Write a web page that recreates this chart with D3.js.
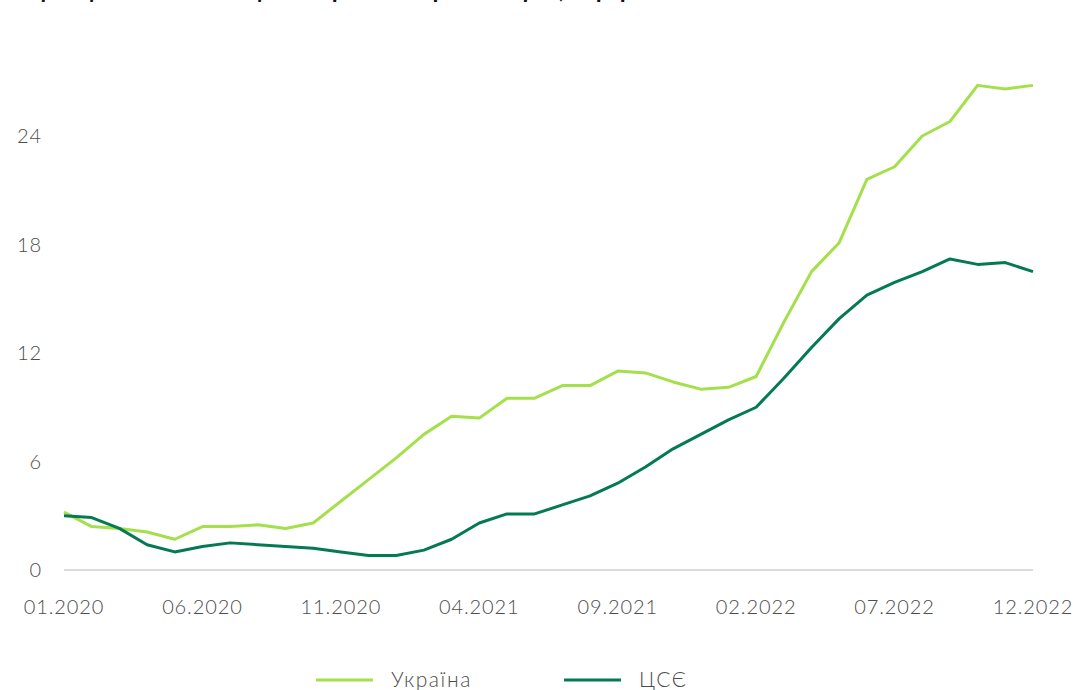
<!DOCTYPE html>
<html lang="uk">
<head>
  <meta charset="UTF-8">
  <title>Інфляція: Україна та ЦСЄ</title>
  <script src="https://d3js.org/d3.v7.min.js"></script>
  <style>
    html, body {
      margin: 0;
      padding: 0;
      overflow: hidden;
      background: #fff;
      font-family: Lato, "Open Sans", sans-serif;
    }
    svg {
      display: block;
    }
    .tick-label {
      font-size: 20px;
      font-weight: 300;
      fill: #4d4d4d;
      letter-spacing: 0.9px;
    }
    .legend-label {
      font-size: 21px;
      font-weight: 300;
      fill: #4d4d4d;
      letter-spacing: 1.6px;
    }
  </style>
</head>
<body>
  <svg width="1073" height="690"></svg>

  <script>
    // місяці 01.2020 – 12.2022
    const months = [];
    for (let y = 2020; y <= 2022; y++) {
      for (let m = 1; m <= 12; m++) months.push(String(m).padStart(2, "0") + "." + y);
    }

    const ukraine = [
      3.2, 2.4, 2.3, 2.1, 1.7, 2.4, 2.4, 2.5, 2.3, 2.6, 3.8, 5.0,
      6.2, 7.5, 8.5, 8.4, 9.5, 9.5, 10.2, 10.2, 11.0, 10.9, 10.4, 10.0,
      10.1, 10.7, 13.7, 16.5, 18.1, 21.6, 22.3, 24.0, 24.8, 26.8, 26.6, 26.8
    ];
    const cee = [
      3.0, 2.9, 2.3, 1.4, 1.0, 1.3, 1.5, 1.4, 1.3, 1.2, 1.0, 0.8,
      0.8, 1.1, 1.7, 2.6, 3.1, 3.1, 3.6, 4.1, 4.8, 5.7, 6.7, 7.5,
      8.3, 9.0, 10.6, 12.3, 13.9, 15.2, 15.9, 16.5, 17.2, 16.9, 17.0, 16.5
    ];

    const yTicks = [0, 6, 12, 18, 24];
    const xTickLabels = ["01.2020", "06.2020", "11.2020", "04.2021", "09.2021", "02.2022", "07.2022", "12.2022"];

    const seriesNames = ["Україна", "ЦСЄ"];
    const seriesColors = ["#a4e04b", "#047a50"];

    const svg = d3.select("svg");

    const x = d3.scalePoint().domain(months).range([64, 1033]);
    const y = d3.scaleLinear().domain([0, 24]).range([570, 136]);

    // заголовок (обрізаний зверху, як на оригіналі)
    svg.append("text")
      .attr("x", 14)
      .attr("y", -2)
      .style("font-size", "24px")
      .style("font-weight", "700")
      .style("fill", "#111")
      .text("Інфляція споживчих цін в Україні та країнах ЦСЄ, % р/р");

    // вісь Y (тільки підписи)
    svg.append("g")
      .selectAll("text")
      .data(yTicks)
      .enter().append("text")
      .attr("class", "tick-label")
      .attr("x", 42)
      .attr("y", d => y(d))
      .attr("dy", "0.35em")
      .attr("text-anchor", "end")
      .text(d => d);

    // базова лінія
    svg.append("line")
      .attr("x1", x(months[0]))
      .attr("x2", x(months[months.length - 1]))
      .attr("y1", y(0))
      .attr("y2", y(0))
      .attr("stroke", "#cfcfcf")
      .attr("stroke-width", 1.5);

    // підписи осі X
    svg.append("g")
      .selectAll("text")
      .data(xTickLabels)
      .enter().append("text")
      .attr("class", "tick-label")
      .attr("x", d => x(d))
      .attr("y", 614)
      .attr("text-anchor", "middle")
      .text(d => d);

    const line = d3.line()
      .x((d, i) => x(months[i]))
      .y(d => y(d));

    [ukraine, cee].forEach((values, i) => {
      svg.append("path")
        .datum(values)
        .attr("fill", "none")
        .attr("stroke", seriesColors[i])
        .attr("stroke-width", 3)
        .attr("stroke-linejoin", "round")
        .attr("d", line);
    });

    // легенда
    const legendX = [316, 564];
    const legend = svg.append("g");
    seriesNames.forEach((name, i) => {
      legend.append("line")
        .attr("x1", legendX[i])
        .attr("x2", legendX[i] + 57)
        .attr("y1", 680)
        .attr("y2", 680)
        .attr("stroke", seriesColors[i])
        .attr("stroke-width", 3);
      legend.append("text")
        .attr("class", "legend-label")
        .attr("x", legendX[i] + 75)
        .attr("y", 687)
        .text(name);
    });
  </script>
</body>
</html>
